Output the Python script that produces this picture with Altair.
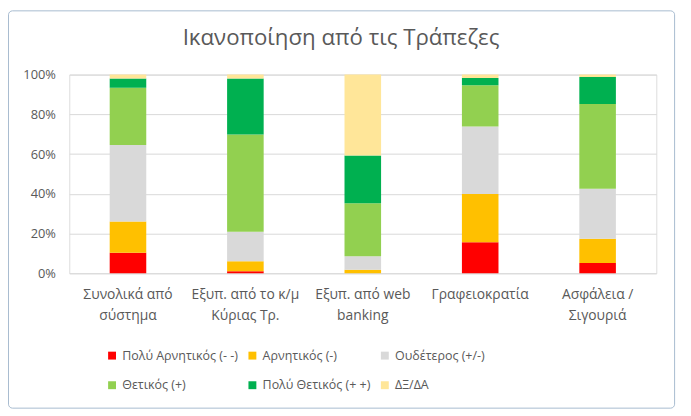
import altair as alt
import pandas as pd

categories = [
    "Συνολικά από\nσύστημα",
    "Εξυπ. από το κ/μ\nΚύριας Τρ.",
    "Εξυπ. από web\nbanking",
    "Γραφειοκρατία",
    "Ασφάλεια /\nΣιγουριά",
]
series = [
    "Πολύ Αρνητικός (- -)",
    "Αρνητικός (-)",
    "Ουδέτερος (+/-)",
    "Θετικός (+)",
    "Πολύ Θετικός (+ +)",
    "ΔΞ/ΔΑ",
]
colors = ["#FF0000", "#FFC000", "#D9D9D9", "#92D050", "#00B050", "#FFE699"]
chart_title = ["Ικανοποίηση από τις Τράπεζες"]

very_neg = [10.3, 1.0, 0.0, 15.6, 5.1]
neg = [15.8, 5.1, 1.7, 24.3, 12.3]
neutral = [38.5, 14.8, 6.9, 34.0, 25.1]
pos = [28.8, 48.9, 26.6, 20.8, 42.7]
very_pos = [4.6, 28.2, 24.1, 3.6, 13.6]
dk = [2.0, 2.0, 40.7, 1.7, 1.2]
values = [very_neg, neg, neutral, pos, very_pos, dk]

rows = []
for si, (s, vals) in enumerate(zip(series, values)):
    for c, v in zip(categories, vals):
        rows.append({"cat": c, "series": s, "order": si, "value": v})
df = pd.DataFrame(rows)

FONT = "Open Sans"
TXT = "#595959"
W, H = 594, 201
PL, PT, PR, PB = 62, 65, 27, 137

bars = alt.Chart(df).mark_bar(size=37).encode(
    x=alt.X(
        "cat:N",
        sort=categories,
        title=None,
        scale=alt.Scale(paddingInner=0, paddingOuter=0),
        axis=alt.Axis(
            labelExpr="split(datum.label, '\\n')",
            labelAngle=0,
            domain=False,
            ticks=False,
            labelPadding=15,
            labelFontSize=14,
            labelColor=TXT,
            labelLineHeight=21,
            labelFont=FONT,
        ),
    ),
    y=alt.Y(
        "value:Q",
        stack="zero",
        title=None,
        scale=alt.Scale(domain=[0, 100], nice=False),
        axis=alt.Axis(
            values=[0, 20, 40, 60, 80, 100],
            labelExpr="datum.value + '%'",
            domain=False,
            ticks=False,
            grid=True,
            gridColor="#D9D9D9",
            gridWidth=1,
            labelPadding=14,
            labelFontSize=13,
            labelColor=TXT,
            labelFont=FONT,
        ),
    ),
    color=alt.Color(
        "series:N",
        sort=series,
        scale=alt.Scale(domain=series, range=colors),
        legend=alt.Legend(
            title=None,
            orient="none",
            direction="horizontal",
            legendX=37,
            legendY=278,
            columns=3,
            gridAlign="each",
            columnPadding=8,
            rowPadding=17,
            symbolType="square",
            symbolSize=64,
            symbolStrokeWidth=0,
            labelFontSize=12.6,
            labelFont=FONT,
            labelColor=TXT,
            labelOffset=4,
            padding=0,
        ),
    ),
    order=alt.Order("order:Q", sort="ascending"),
)

border = alt.Chart(pd.DataFrame({"a": [0]})).mark_rect(
    fill=None, stroke="#A7BBCF", strokeWidth=1, cornerRadius=4
).encode(
    x=alt.value(-PL + 0.5),
    x2=alt.value(612.5),
    y=alt.value(-PT + 0.5),
    y2=alt.value(H + PB - 0.5),
)

title = alt.Chart(pd.DataFrame({"t": chart_title})).mark_text(
    font=FONT, fontSize=22.5, color=TXT, align="center", baseline="middle"
).encode(
    text="t:N",
    x=alt.value(275),
    y=alt.value(-37),
)

chart = alt.layer(border, title, bars).properties(
    width=W,
    height=H,
    padding={"left": PL, "top": PT, "right": PR, "bottom": PB},
    autosize=alt.AutoSizeParams(type="none"),
).configure_view(stroke=None).configure(background="white")

chart.save("out.html", embed_options={"renderer": "svg", "actions": False})
